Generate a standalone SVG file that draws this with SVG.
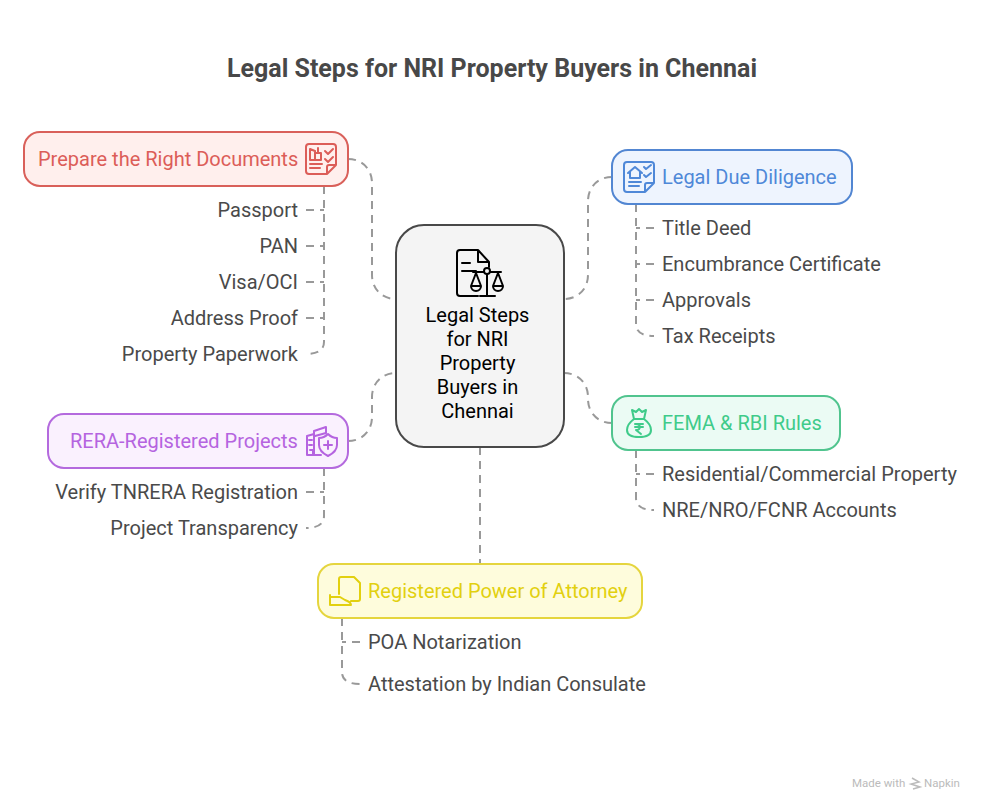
<svg xmlns="http://www.w3.org/2000/svg" width="984" height="810" viewBox="0 0 984 810">
<style>
text{font-family:Roboto,"Liberation Sans",sans-serif;font-size:20px}
.t{fill:#4a4a4a}
.e{text-anchor:end}
.c{fill:none;stroke:#999;stroke-width:2;stroke-dasharray:8 6}
.i{fill:none;stroke-width:2;stroke-linecap:round;stroke-linejoin:round}
.b{stroke-width:2}
</style>
<rect width="984" height="810" fill="#fff"/>
<text x="492" y="77" text-anchor="middle" style="font-size:25px;font-weight:700" fill="#484848">Legal Steps for NRI Property Buyers in Chennai</text>
<g id="connectors">
<path class="c" d="M348 159C362 159 372 169 372 183V275C372 289 382 299 396 299"/>
<path class="c" d="M612 177C598 177 588 187 588 201V275C588 289 578 299 564 299"/>
<path class="c" d="M348 441C362 441 372 431 372 417V397C372 383 382 373 396 373"/>
<path class="c" d="M612 423C598 423 588 413 588 399V397C588 383 578 373 564 373"/>
<path class="c" d="M480 447V564"/>
<path class="c" d="M324 186V342Q324 354 306 354"/>
<path class="c" d="M306 210H324M306 246H324M306 282H324M306 318H324"/>
<path class="c" d="M636 204V324Q636 336 654 336"/>
<path class="c" d="M654 228H636M654 264H636M654 300H636"/>
<path class="c" d="M636 450V498Q636 510 654 510"/>
<path class="c" d="M654 474H636"/>
<path class="c" d="M324 468V516Q324 528 306 528"/>
<path class="c" d="M306 492H324"/>
<path class="c" d="M342 618V672Q342 684 360 684"/>
<path class="c" d="M360 642H342"/>
</g>
<g id="center">
<rect x="396" y="225" width="168" height="222" rx="28" fill="#f4f4f4" stroke="#484848" stroke-width="2"/>
<g class="i" stroke="#000">
<path d="M478 296H460Q457 296 457 293V253Q457 250 460 250H478L489 262V267M478 250V262H489M462 263H470M462 271H476"/>
<path d="M487 274V296M480 296H495M473 272H501M476 273L471 286H481ZM498 273L493 286H503ZM471 286A5 5 0 0 0 481 286M493 286A5 5 0 0 0 503 286"/>
<circle cx="487" cy="271" r="3" fill="#f4f4f4"/>
</g>
<text x="477.500" y="322" text-anchor="middle" fill="#000"><tspan x="477.500">Legal Steps</tspan><tspan x="477.500" dy="24">for NRI</tspan><tspan x="477.500" dy="24">Property</tspan><tspan x="477.500" dy="24">Buyers in</tspan><tspan x="477.500" dy="24">Chennai</tspan></text>
</g>
<g id="documents">
<rect class="b" x="24" y="132" width="324" height="54" rx="16" fill="#ffefed" stroke="#d9605a"/>
<text x="38" y="166" fill="#dc5d58">Prepare the Right Documents</text>
<path class="i" stroke="#dc5d58" d="M327 174H309Q306 174 306 171V147Q306 144 309 144H333Q336 144 336 147V165L327 174V167Q327 165 329 165H336M310 149L315 151V160H310ZM315 153H321V160H315M318 148V152M310 164H322M310 168H320M325 151L328 154L333 149M325 159L328 162L333 157"/>
</g>
<g id="documents-items">
<text class="e t" x="298" y="217">Passport</text>
<text class="e t" x="298" y="253">PAN</text>
<text class="e t" x="298" y="289">Visa/OCI</text>
<text class="e t" x="298" y="325">Address Proof</text>
<text class="e t" x="298" y="361">Property Paperwork</text>
</g>
<g id="diligence">
<rect class="b" x="612" y="150" width="240" height="54" rx="16" fill="#eef4fe" stroke="#5286d2"/>
<text x="662" y="184" fill="#4f88d8">Legal Due Diligence</text>
<path class="i" stroke="#4f88d8" d="M645 192H627Q624 192 624 189V165Q624 162 627 162H651Q654 162 654 165V183L645 192V185Q645 183 647 183H654M628 173L635 167L642 173M630 172V178H640V172M629 182H641M629 186H639M644 167L646 169L651 165M644 175L646 177L651 173"/>
</g>
<g id="diligence-items">
<text class="t" x="662" y="235">Title Deed</text>
<text class="t" x="662" y="271">Encumbrance Certificate</text>
<text class="t" x="662" y="307">Approvals</text>
<text class="t" x="662" y="343">Tax Receipts</text>
</g>
<g id="rera">
<rect class="b" x="48" y="414" width="300" height="54" rx="16" fill="#faf1fe" stroke="#b46ade"/>
<text x="70" y="448" fill="#b564e0">RERA-Registered Projects</text>
<path class="i" stroke="#b564e0" d="M307 455V436L314 434V455ZM307 455H321M314 434V431L326 427V433L315 436M310 450H313V455M309 440H312M309 445H312M319 438C323 438 326 436 328 434C330 436 333 438 337 438V445C337 450 332 454 328 456C324 454 319 450 319 445ZM328 441V449M324 445H332"/>
</g>
<g id="rera-items">
<text class="e t" x="298" y="499">Verify TNRERA Registration</text>
<text class="e t" x="298" y="535">Project Transparency</text>
</g>
<g id="fema">
<rect class="b" x="612" y="396" width="228" height="54" rx="16" fill="#ebfbf4" stroke="#50c48e"/>
<text x="662" y="430" fill="#3fcb8a">FEMA &amp; RBI Rules</text>
<path class="i" stroke="#3fcb8a" d="M634 419C630 422 627 426 627 430C627 435 631 437 639 437C647 437 651 435 651 430C651 426 648 422 644 419M634 419H644M634 419L632 410L636 412L639 409L642 412L646 410L644 419M635 424H643M635 427H643M636 424C641 424 641 430 636 430L641 434"/>
</g>
<g id="fema-items">
<text class="t" x="662" y="481">Residential/Commercial Property</text>
<text class="t" x="662" y="517">NRE/NRO/FCNR Accounts</text>
</g>
<g id="poa">
<rect class="b" x="318" y="564" width="324" height="54" rx="16" fill="#fefcdc" stroke="#e5d53e"/>
<text x="368" y="598" fill="#e2d00f">Registered Power of Attorney</text>
<path class="i" stroke="#e2d00f" d="M339 594V579Q339 577 341 577H354L360 583V599Q360 601 358 601H351M330 595V605M330 597H340L345 600C348 601 351 603 351 605H330"/>
</g>
<g id="poa-items">
<text class="t" x="368" y="649">POA Notarization</text>
<text class="t" x="368" y="691">Attestation by Indian Consulate</text>
</g>
<g id="credit">
<text x="852" y="787" style="font-size:11.500px" fill="#bbb">Made with</text>
<path d="M912 778L919 782L911 784L920 787L913 789" fill="none" stroke="#bbb" stroke-width="1.500"/>
<text x="924" y="787" style="font-size:11.500px" fill="#bbb">Napkin</text>
</g>
</svg>
